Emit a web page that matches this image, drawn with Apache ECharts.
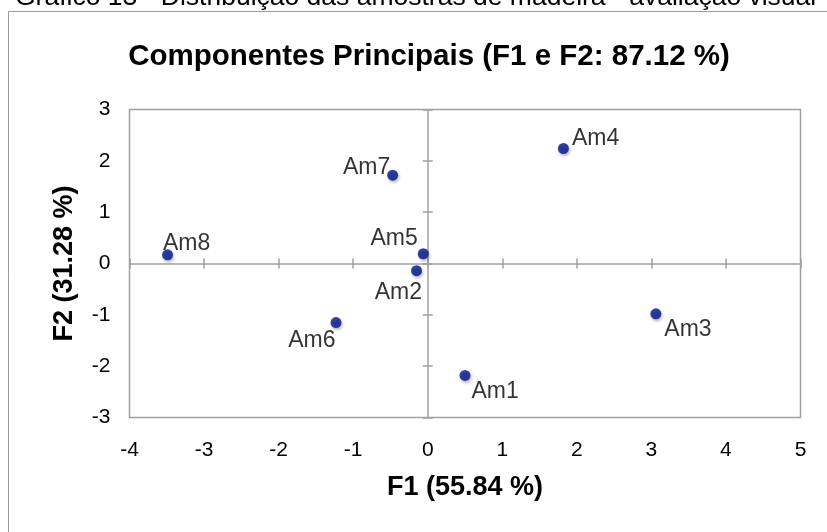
<!DOCTYPE html>
<html>
<head>
<meta charset="utf-8">
<style>html,body{margin:0;padding:0;background:#fff;}#chart{width:827px;height:532px;}</style>
<script src="https://cdn.jsdelivr.net/npm/echarts@6/dist/echarts.min.js"></script>
</head>
<body>
<div id="chart"></div>
<script>
// Data
var sampleNames = ['Am1', 'Am2', 'Am3', 'Am4', 'Am5', 'Am6', 'Am7', 'Am8'];
var f1Values = [0.50, -0.15, 3.06, 1.82, -0.06, -1.23, -0.47, -3.49];
var f2Values = [-2.18, -0.14, -0.98, 2.24, 0.19, -1.15, 1.72, 0.17];
var xTicks = [-4, -3, -2, -1, 0, 1, 2, 3, 4, 5];
var yTicks = [-3, -2, -1, 0, 1, 2, 3];

// label placement per sample (style only)
var labelOffsets = {
  Am1: {pos: 'right', off: [-2, 16]},
  Am2: {pos: 'left', off: [14, 22]},
  Am3: {pos: 'right', off: [0, 16]},
  Am4: {pos: 'right', off: [0, -10]},
  Am5: {pos: 'left', off: [3, -15]},
  Am6: {pos: 'left', off: [8, 18]},
  Am7: {pos: 'left', off: [6, -8]},
  Am8: {pos: 'right', off: [-13, -11]}
};

var FONT = '"Liberation Sans", Arial, Helvetica, sans-serif';
var GRAY = '#a0a0a0';

var pts = sampleNames.map(function (n, i) {
  var lo = labelOffsets[n];
  return {
    name: n,
    value: [f1Values[i], f2Values[i]],
    label: {position: lo.pos, offset: lo.off}
  };
});

var xMin = xTicks[0], xMax = xTicks[xTicks.length - 1];
var yMin = yTicks[0], yMax = yTicks[yTicks.length - 1];

function baseX(extra) {
  return Object.assign({
    type: 'value', min: xMin, max: xMax, interval: 1,
    splitLine: {show: false}
  }, extra);
}
function baseY(extra) {
  return Object.assign({
    type: 'value', min: yMin, max: yMax, interval: 1,
    splitLine: {show: false}
  }, extra);
}

var chart = echarts.init(document.getElementById('chart'));
chart.setOption({
  animation: false,
  textStyle: {fontFamily: FONT},
  title: {
    text: 'Componentes Principais (F1 e F2: 87.12 %)',
    left: 424, top: 37, textAlign: 'center',
    textStyle: {fontSize: 29.5, fontWeight: 'bold', color: '#000', fontFamily: FONT}
  },
  graphic: [
    {type: 'rect', shape: {x: 8.5, y: 11.5, width: 900, height: 600},
     style: {fill: 'none', stroke: '#9a9a9a', lineWidth: 1}, silent: true},
    {type: 'text', x: 15, y: -2.8,
     style: {text: 'Gráfico 13 - Distribuição das amostras de madeira - avaliação visual',
       font: '26.5px ' + FONT, fill: '#000', verticalAlign: 'middle', align: 'left'}}
  ],
  grid: {left: 129.5, right: 26.5, top: 109.5, bottom: 114.5, show: true,
         borderColor: GRAY, borderWidth: 1.5, containLabel: false},
  xAxis: [
    baseX({position: 'bottom', axisLine: {show: false, onZero: false}, axisTick: {show: false},
      axisLabel: {show: true, margin: 22, fontSize: 21, color: '#000', fontFamily: FONT},
      name: 'F1 (55.84 %)', nameLocation: 'middle', nameGap: 57,
      nameTextStyle: {fontSize: 27, fontWeight: 'bold', color: '#000', fontFamily: FONT}}),
    baseX({position: 'bottom', axisLine: {show: true, onZero: true, onZeroAxisIndex: 1, lineStyle: {color: GRAY, width: 1.5}},
      axisTick: {show: true, inside: false, length: 5, lineStyle: {color: GRAY, width: 1.5}},
      axisLabel: {show: false}}),
    baseX({position: 'bottom', axisLine: {show: false, onZero: true, onZeroAxisIndex: 1},
      axisTick: {show: true, inside: true, length: 5, lineStyle: {color: GRAY, width: 1.5}},
      axisLabel: {show: false}})
  ],
  yAxis: [
    baseY({position: 'left', axisLine: {show: false, onZero: false}, axisTick: {show: false},
      axisLabel: {show: true, margin: 19, fontSize: 21, color: '#000', fontFamily: FONT},
      name: 'F2 (31.28 %)', nameLocation: 'middle', nameGap: 51, nameRotate: 90,
      nameTextStyle: {fontSize: 27, fontWeight: 'bold', color: '#000', fontFamily: FONT}}),
    baseY({position: 'left', axisLine: {show: true, onZero: true, onZeroAxisIndex: 1, lineStyle: {color: GRAY, width: 1.5}},
      axisTick: {show: true, inside: false, length: 5, lineStyle: {color: GRAY, width: 1.5}},
      axisLabel: {show: false}}),
    baseY({position: 'left', axisLine: {show: false, onZero: true, onZeroAxisIndex: 1},
      axisTick: {show: true, inside: true, length: 5, lineStyle: {color: GRAY, width: 1.5}},
      axisLabel: {show: false}})
  ],
  series: [{
    type: 'scatter',
    xAxisIndex: 0, yAxisIndex: 0,
    symbolSize: 11,
    data: pts,
    itemStyle: {color: '#001489', shadowBlur: 3, shadowColor: 'rgba(0,0,0,0.35)', shadowOffsetX: 1, shadowOffsetY: 2},
    label: {show: true, formatter: '{b}', fontSize: 23, color: '#000', fontFamily: FONT, distance: 3}
  }]
});
</script>
</body>
</html>
